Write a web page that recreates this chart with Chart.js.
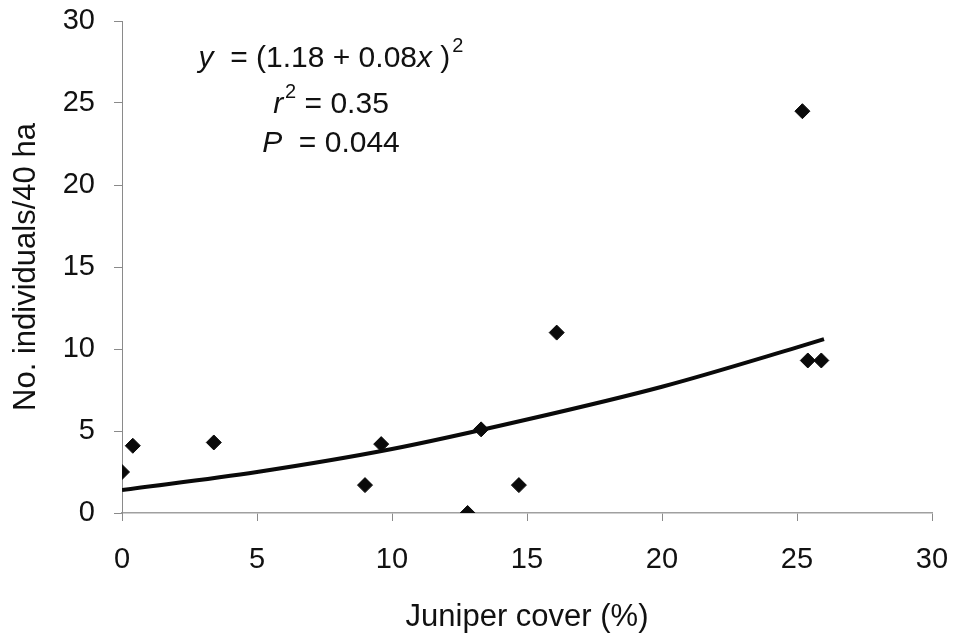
<!DOCTYPE html>
<html><head><meta charset="utf-8">
<script src="https://cdn.jsdelivr.net/npm/chart.js@4/dist/chart.umd.min.js"></script>
<style>html,body{margin:0;padding:0;background:#fff}</style>
</head><body>
<canvas id="c" width="954" height="643"></canvas>
<script>
// Data
const juniperCover = [0, 0.4, 3.4, 9.0, 9.6, 12.8, 13.3, 14.7, 16.1, 25.2, 25.4, 25.9];
const individuals  = [2.5, 4.1, 4.3, 1.7, 4.2, 0.0, 5.1, 1.7, 11.0, 24.5, 9.3, 9.3];
// Fitted curve
const fitCover = [0, 5, 10, 15, 20, 25, 26];
const fitIndividuals = [1.4, 2.5, 3.9, 5.7, 7.7, 10.1, 10.6];
const xTickValues = [0, 5, 10, 15, 20, 25, 30];
const yTickValues = [0, 5, 10, 15, 20, 25, 30];
const xTitle = 'Juniper cover (%)';
const yTitle = 'No. individuals/40 ha';
const statLines = [
  [{t:'y', i:true}, {t:'  = (1.18 + 0.08'}, {t:'x', i:true}, {t:' )'}, {t:'2', s:true}],
  [{t:'r', i:true}, {t:'2', s:true}, {t:' = 0.35'}],
  [{t:'P', i:true}, {t:'  = 0.044'}]
];

const FONT = '"Liberation Sans", Arial, sans-serif';

const statsPlugin = {
  id: 'stats',
  afterDraw(chart) {
    const ctx = chart.ctx;
    const xs = chart.scales.x, ys = chart.scales.y;
    const cx = xs.getPixelForValue(7.74);
    const baselines = [27.2, 24.4, 22.0].map(v => ys.getPixelForValue(v));
    const size = 30, sup = 20;
    ctx.save();
    ctx.fillStyle = '#111';
    ctx.textBaseline = 'alphabetic';
    ctx.textAlign = 'left';
    statLines.forEach((line, li) => {
      const fontOf = seg => (seg.i ? 'italic ' : '') + (seg.s ? sup : size) + 'px ' + FONT;
      let total = 0;
      line.forEach(seg => { ctx.font = fontOf(seg); total += ctx.measureText(seg.t).width + (seg.s ? 2 : 0); });
      let x = cx - total / 2;
      line.forEach(seg => {
        ctx.font = fontOf(seg);
        ctx.fillText(seg.t, x + (seg.s ? 2 : 0), baselines[li] - (seg.s ? 15 : 0));
        x += ctx.measureText(seg.t).width + (seg.s ? 2 : 0);
      });
    });
    ctx.restore();
  }
};

new Chart(document.getElementById('c'), {
  type: 'scatter',
  data: {
    datasets: [
      {
        type: 'line',
        label: 'fit',
        data: fitCover.map((x, i) => ({x, y: fitIndividuals[i]})),
        borderColor: '#0a0a0a',
        borderWidth: 4,
        pointRadius: 0,
        cubicInterpolationMode: 'monotone',
        fill: false,
        order: 2
      },
      {
        label: 'observed',
        data: juniperCover.map((x, i) => ({x, y: individuals[i]})),
        pointStyle: 'rectRot',
        pointRadius: 7.5,
        backgroundColor: '#0a0a0a',
        borderColor: '#0a0a0a',
        borderWidth: 1,
        order: 1
      }
    ]
  },
  options: {
    responsive: false,
    animation: false,
    devicePixelRatio: 1,
    layout: { padding: { top: 21, right: 22, bottom: 0, left: 0 } },
    plugins: { legend: { display: false }, tooltip: { enabled: false } },
    scales: {
      x: {
        type: 'linear',
        min: 0, max: 30,
        afterFit(s) { s.height = 130; s.paddingLeft = 0; s.paddingRight = 0; },
        afterBuildTicks(s) { s.ticks = xTickValues.map(v => ({value: v})); },
        grid: { drawOnChartArea: false, drawTicks: true, tickLength: 8, color: '#8a8a8a', lineWidth: 1 },
        border: { display: true, color: '#a0a0a0', width: 1.5 },
        ticks: { color: '#111', padding: 22, font: { family: FONT, size: 29 } },
        title: { display: true, text: xTitle, color: '#111', font: { family: FONT, size: 31 }, padding: { top: 0, bottom: 7 } }
      },
      y: {
        type: 'linear',
        min: 0, max: 30,
        afterFit(s) { s.width = 122; s.paddingTop = 0; s.paddingBottom = 0; },
        afterBuildTicks(s) { s.ticks = yTickValues.map(v => ({value: v})); },
        grid: { drawOnChartArea: false, drawTicks: true, tickLength: 8, color: '#8a8a8a', lineWidth: 1 },
        border: { display: true, color: '#8a8a8a', width: 1 },
        ticks: { color: '#111', padding: 19, font: { family: FONT, size: 29 } },
        title: { display: true, text: yTitle, color: '#111', font: { family: FONT, size: 31 }, padding: { top: 8, bottom: 0 } }
      }
    }
  },
  plugins: [statsPlugin]
});
</script>
</body></html>
